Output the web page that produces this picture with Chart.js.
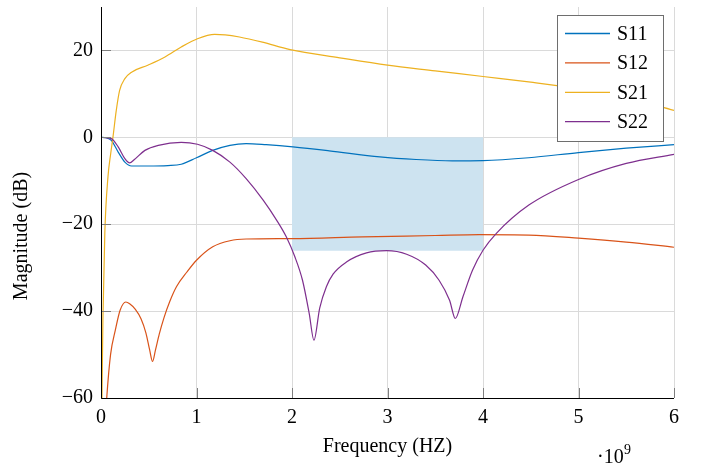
<!DOCTYPE html>
<html lang="en">

<head>
    <meta charset="UTF-8">
    <title>S-parameters</title>
    <style>
        * {
            box-sizing: border-box;
            margin: 0;
            padding: 0;
        }

        html,
        body {
            width: 703px;
            height: 471px;
            background: #fff;
        }

        #wrap {
            position: relative;
            width: 703px;
            height: 471px;
        }
    </style>
</head>

<body>
    <div id="wrap"><canvas id="sChart"></canvas></div>

    <script src="https://cdn.jsdelivr.net/npm/chart.js@4.4.0/dist/chart.umd.min.js"></script>
    <script>
        // frequencies in units of 1e9 Hz, magnitudes in dB
        const s11F = [0, 0.05, 0.108, 0.18, 0.25, 0.32, 0.49, 0.7, 0.84, 1.0, 1.17, 1.35, 1.52, 1.73, 2.01, 2.39, 2.92, 3.3, 3.68, 4.0, 4.48, 5.0, 5.5, 6.0]
        const s11Db = [0, -0.1, -0.7, -3.4, -5.7, -6.6, -6.6, -6.5, -6.2, -4.7, -3.0, -1.84, -1.45, -1.7, -2.2, -3.1, -4.5, -5.1, -5.4, -5.35, -4.7, -3.5, -2.5, -1.7]

        const s12F = [0.02, 0.06, 0.1, 0.15, 0.2, 0.26, 0.3, 0.36, 0.42, 0.47, 0.51, 0.54, 0.57, 0.61, 0.66, 0.72, 0.79, 0.9, 1.0, 1.17, 1.35, 1.52, 2.0, 2.74, 3.5, 3.96, 4.48, 5.0, 5.5, 6.0]
        const s12Db = [-75, -60, -50, -44.4, -39.8, -37.9, -38.3, -39.6, -41.8, -45, -49, -51.6, -49, -45.3, -41.5, -37.8, -34.4, -31, -28.3, -25.2, -23.8, -23.4, -23.3, -22.9, -22.6, -22.4, -22.5, -23.2, -24.1, -25.3]

        const s21F = [0, 0.01, 0.02, 0.04, 0.073, 0.1, 0.125, 0.16, 0.195, 0.25, 0.32, 0.49, 0.67, 0.84, 1.01, 1.19, 1.3, 1.45, 1.69, 1.98, 2.5, 3.0, 3.5, 4.0, 4.5, 5.0, 5.5, 6.0]
        const s21Db = [-80, -60, -42, -22, -9.1, -4, 0, 6.2, 10.8, 13.5, 15, 16.6, 18.5, 20.8, 22.7, 23.7, 23.6, 23.1, 21.9, 20.2, 18.3, 16.6, 15.3, 14.0, 12.7, 11.2, 9.2, 6.2]

        const s22F = [0, 0.05, 0.108, 0.18, 0.25, 0.3, 0.35, 0.46, 0.6, 0.84, 1.01, 1.17, 1.35, 1.52, 1.7, 1.84, 1.94, 2.03, 2.11, 2.18, 2.23, 2.29, 2.36, 2.43, 2.57, 2.78, 2.99, 3.2, 3.4, 3.54, 3.65, 3.71, 3.79, 3.89, 4.0, 4.14, 4.48, 5.0, 5.5, 6.0]
        const s22Db = [0, -0.1, -0.3, -2.2, -4.9, -5.9, -5.1, -3.0, -1.84, -1.15, -1.6, -3.0, -5.7, -9.5, -14.5, -19.1, -22.9, -27.5, -32.9, -40.5, -46.7, -39.3, -34.4, -31.5, -28.7, -26.6, -26.1, -26.9, -29.4, -32.9, -37.5, -41.7, -36.7, -30.6, -26, -22.1, -15.6, -9.7, -6, -3.9]

        const seriesNames = ['S11', 'S12', 'S21', 'S22']
        const seriesColors = ['#0072BD', '#D95319', '#EDB120', '#7E2F8E']

        // shaded band
        const bandX = [2, 4]
        const bandY = [-26.1, 0]

        const xTicks = [0, 1, 2, 3, 4, 5, 6]
        const yTicks = [-60, -40, -20, 0, 20]

        const SERIF = "'Liberation Serif', 'DejaVu Serif', serif"

        function pts(f, v) {
            return f.map((x, i) => ({ x: x, y: v[i] }))
        }

        const allData = [pts(s11F, s11Db), pts(s12F, s12Db), pts(s21F, s21Db), pts(s22F, s22Db)]

        const decor = {
            id: 'decor',
            beforeDatasetsDraw(chart) {
                const { ctx, scales: { x, y } } = chart
                ctx.save()
                ctx.fillStyle = '#cde3f0'
                const x0 = x.getPixelForValue(bandX[0]), x1 = x.getPixelForValue(bandX[1])
                const y0 = y.getPixelForValue(bandY[0]), y1 = y.getPixelForValue(bandY[1])
                ctx.fillRect(x0, y1, x1 - x0, y0 - y1)
                ctx.restore()
            },
            afterDraw(chart) {
                const { ctx, chartArea: a, scales: { x, y } } = chart
                ctx.save()
                // inward tick marks
                ctx.strokeStyle = '#7f7f7f'
                ctx.lineWidth = 1
                ctx.beginPath()
                xTicks.forEach(t => {
                    const px = Math.round(x.getPixelForValue(t)) + 0.5
                    ctx.moveTo(px, a.bottom)
                    ctx.lineTo(px, a.bottom - 10)
                })
                yTicks.forEach(t => {
                    const py = Math.round(y.getPixelForValue(t)) + 0.5
                    ctx.moveTo(a.left, py)
                    ctx.lineTo(a.left + 10, py)
                })
                ctx.stroke()
                // axis lines (left and bottom only)
                ctx.strokeStyle = '#000'
                ctx.beginPath()
                ctx.moveTo(a.left + 0.5, a.top)
                ctx.lineTo(a.left + 0.5, a.bottom + 0.5)
                ctx.lineTo(a.right, a.bottom + 0.5)
                ctx.stroke()

                // titles
                ctx.fillStyle = '#000'
                ctx.font = '20px ' + SERIF
                ctx.textAlign = 'center'
                ctx.textBaseline = 'middle'
                ctx.fillText('Frequency (HZ)', (a.left + a.right) / 2, 447)
                ctx.save()
                ctx.translate(22, 236)
                ctx.rotate(-Math.PI / 2)
                ctx.fillText('Magnitude (dB)', 0, 0)
                ctx.restore()
                ctx.textAlign = 'left'
                ctx.textBaseline = 'alphabetic'
                ctx.fillText('\u00b710', 597, 463)
                ctx.font = '14px ' + SERIF
                ctx.fillText('9', 624, 454)

                // legend
                const lx = 557, ly = 15, lw = 106, lh = 126
                ctx.fillStyle = '#fff'
                ctx.fillRect(lx, ly, lw, lh)
                ctx.strokeStyle = '#6e6e6e'
                ctx.strokeRect(lx + 0.5, ly + 0.5, lw, lh)
                ctx.font = '20px ' + SERIF
                ctx.textBaseline = 'middle'
                chart.data.datasets.forEach((ds, i) => {
                    const ry = 33.5 + i * 29.4
                    ctx.strokeStyle = ds.borderColor
                    ctx.lineWidth = 1.3
                    ctx.beginPath()
                    ctx.moveTo(565, ry)
                    ctx.lineTo(610, ry)
                    ctx.stroke()
                    ctx.fillStyle = '#000'
                    ctx.fillText(ds.label, 617, ry + 1)
                })
                ctx.restore()
            }
        }

        const config = {
            type: 'line',
            data: {
                datasets: seriesNames.map((name, i) => ({
                    label: name,
                    data: allData[i],
                    borderColor: seriesColors[i],
                    backgroundColor: seriesColors[i],
                    borderWidth: 1.2,
                    pointRadius: 0,
                    fill: false,
                    cubicInterpolationMode: 'monotone',
                    order: seriesNames.length - i
                }))
            },
            options: {
                responsive: false,
                animation: false,
                devicePixelRatio: 1,
                layout: { padding: { top: 7, right: 29, left: 0, bottom: 0 } },
                plugins: {
                    legend: { display: false },
                    tooltip: { enabled: false }
                },
                scales: {
                    x: {
                        type: 'linear',
                        min: 0,
                        max: 6,
                        afterFit(s) {
                            s.height = 73
                            s.paddingLeft = 0
                            s.paddingRight = 0
                        },
                        afterBuildTicks(s) { s.ticks = xTicks.map(v => ({ value: v })) },
                        grid: { color: '#dadada', lineWidth: 1, drawTicks: false },
                        border: { display: false },
                        ticks: {
                            padding: 8,
                            color: '#000',
                            font: { family: SERIF, size: 20 },
                            maxRotation: 0
                        }
                    },
                    y: {
                        type: 'linear',
                        min: -60,
                        max: 30,
                        afterFit(s) {
                            s.width = 101
                            s.paddingTop = 0
                            s.paddingBottom = 0
                        },
                        afterBuildTicks(s) { s.ticks = yTicks.map(v => ({ value: v })) },
                        grid: { color: '#dadada', lineWidth: 1, drawTicks: false },
                        border: { display: false },
                        ticks: {
                            padding: 8,
                            color: '#000',
                            font: { family: SERIF, size: 20 },
                            callback: v => String(v).replace('-', '\u2212')
                        }
                    }
                }
            },
            plugins: [decor]
        }

        const cv = document.getElementById('sChart')
        cv.width = 703
        cv.height = 471
        let sChart = new Chart(cv, config)
    </script>
</body>

</html>
